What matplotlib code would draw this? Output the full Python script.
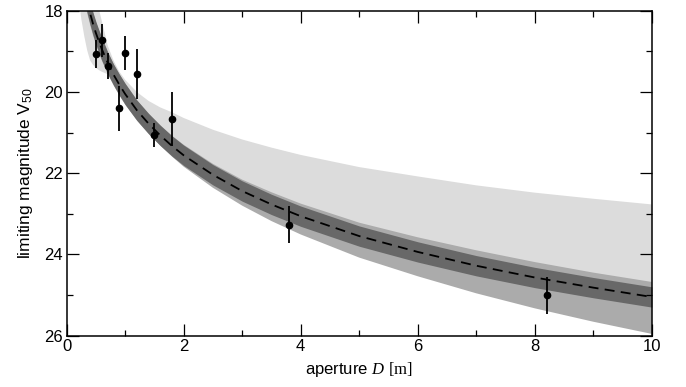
import matplotlib
matplotlib.use("Agg")
import matplotlib.pyplot as plt
import numpy as np

plt.rcParams['font.family'] = ['Liberation Sans', 'DejaVu Sans']
plt.rcParams['mathtext.fontset'] = 'custom'
plt.rcParams['mathtext.rm'] = 'Liberation Serif'
plt.rcParams['mathtext.it'] = 'Liberation Serif:italic'
plt.rcParams['mathtext.sf'] = 'Liberation Sans'

# measured limiting magnitudes
D_obs = [0.5, 0.6, 0.7, 0.9, 1.0, 1.2, 1.5, 1.8, 3.8, 8.2]
V50_obs = [19.06, 18.73, 19.37, 20.40, 19.04, 19.56, 21.06, 20.67, 23.27, 25.01]
V50_err = [0.35, 0.41, 0.32, 0.55, 0.42, 0.62, 0.30, 0.67, 0.46, 0.46]

# curves
D_grid = [0.2, 0.25, 0.3, 0.35, 0.4, 0.45, 0.5, 0.55, 0.6, 0.7, 0.8, 0.9, 1.0,
          1.2, 1.4, 1.6, 1.8, 2.0, 2.5, 3.0, 3.5, 4.0, 5.0, 6.0, 7.0, 8.0, 9.0, 10.0]
fit_mag = [16.56, 17.04, 17.44, 17.77, 18.06, 18.32, 18.55, 18.75, 18.94, 19.28, 19.57,
           19.82, 20.05, 20.45, 20.78, 21.07, 21.33, 21.56, 22.04, 22.44, 22.77, 23.06,
           23.55, 23.94, 24.28, 24.57, 24.82, 25.05]
fit_err = [0.28, 0.28, 0.28, 0.28, 0.28, 0.28, 0.28, 0.28, 0.28, 0.27, 0.26, 0.26, 0.26,
           0.25, 0.25, 0.25, 0.25, 0.25, 0.25, 0.25, 0.25, 0.25, 0.25, 0.25, 0.25, 0.25,
           0.25, 0.25]
# medium band (offsets above / below the fit)
med_up = [0.28, 0.28, 0.28, 0.28, 0.28, 0.28, 0.28, 0.28, 0.28, 0.27, 0.26, 0.26, 0.26,
          0.25, 0.25, 0.25, 0.25, 0.26, 0.27, 0.28, 0.30, 0.31, 0.33, 0.36, 0.38, 0.38,
          0.37, 0.37]
med_dn = [0.28, 0.28, 0.28, 0.28, 0.28, 0.28, 0.28, 0.28, 0.28, 0.27, 0.26, 0.26, 0.26,
          0.25, 0.25, 0.25, 0.26, 0.28, 0.32, 0.36, 0.41, 0.45, 0.53, 0.60, 0.68, 0.76,
          0.84, 0.91]
# light band edges
light_hi = [15.0, 15.5, 16.0, 16.5, 17.0, 17.4, 17.7, 17.95, 18.25, 18.85, 19.22, 19.5,
            19.7, 20.0, 20.22, 20.38, 20.5, 20.64, 20.93, 21.17, 21.37, 21.55, 21.85,
            22.08, 22.3, 22.48, 22.63, 22.77]
light_lo = [17.65, 18.2, 18.62, 18.97, 19.22, 19.33, 19.41, 19.46, 19.5, 19.56, 19.7,
            19.9, 20.1, 20.45, 20.78, 21.07, 21.33, 21.56, 22.04, 22.44, 22.77, 23.06,
            23.55, 23.94, 24.28, 24.57, 24.82, 25.05]

D = np.array(D_grid)
fit = np.array(fit_mag)

fig = plt.figure(figsize=(6.86, 3.87), dpi=100)
ax = fig.add_axes([0.0972, 0.133, 0.853, 0.839])

ax.fill_between(D, light_hi, light_lo, color='#dcdcdc', lw=0)
ax.fill_between(D, fit - np.array(med_up), fit + np.array(med_dn), color='#ababab', lw=0)
ax.fill_between(D, fit - np.array(fit_err), fit + np.array(fit_err), color='#686868', lw=0)
ax.plot(D, fit, color='black', lw=1.3, dashes=(5.5, 3.5))

ax.errorbar(D_obs, V50_obs, yerr=V50_err, fmt='o', color='black', ms=4.5,
            elinewidth=1.3, capsize=0)

ax.set_xlim(0, 10)
ax.set_ylim(26, 18)
ax.set_xticks([0, 2, 4, 6, 8, 10])
ax.set_xticks([1, 3, 5, 7, 9], minor=True)
ax.set_yticks([18, 20, 22, 24, 26])
ax.set_yticks([19, 21, 23, 25], minor=True)
ax.tick_params(which='both', direction='in', top=True, right=True, labelsize=12,
               width=0.9, pad=2.5)
ax.tick_params(which='major', length=8.5)
ax.tick_params(which='minor', length=4.3)
for s in ax.spines.values():
    s.set_linewidth(1.1)

ax.set_xlabel(r"aperture $D$ $[\mathrm{m}]$", fontsize=12, labelpad=4)
ax.set_ylabel(r"limiting magnitude V$_{\mathsf{50}}$", fontsize=12.5, labelpad=7)

fig.savefig("out.png", dpi=100)
